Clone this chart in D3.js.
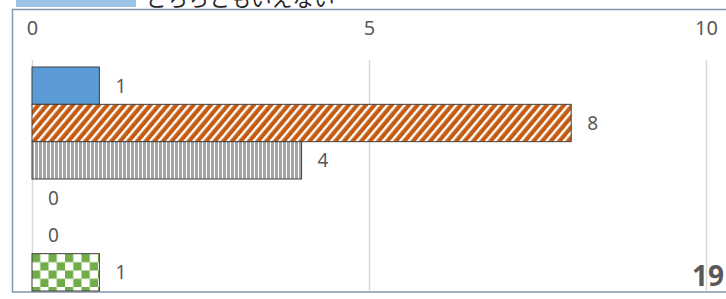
<!doctype html>
<html lang="ja">
<head>
  <meta charset="utf-8">
  <title>bar chart</title>
  <style>
    body { margin: 0; background: #fff; }
    svg text { font-family: "Noto Sans", "Noto Sans CJK JP", sans-serif; fill: #595959; }
  </style>
</head>
<body>
<div id="chart"></div>
<script src="https://cdnjs.cloudflare.com/ajax/libs/d3/7.8.5/d3.min.js"></script>
<script>

// data
const categories = ["a", "b", "c", "d", "e", "f"]
const values = [1, 8, 4, 0, 0, 1]
const xTicks = [0, 5, 10]
const total = 19
const legendText = "どちらともいえない"

const w = 726, h = 299

const svg = d3.select("#chart").append("svg")
  .attr("width", w)
  .attr("height", h)

// patterns for each bar
const defs = svg.append("defs")

let p = defs.append("pattern").attr("id", "diag")
  .attr("patternUnits", "userSpaceOnUse").attr("width", 6.6).attr("height", 6.6)
  .attr("patternTransform", "rotate(40)")
p.append("rect").attr("width", 6.6).attr("height", 6.6).attr("fill", "#c55a11")
p.append("rect").attr("width", 2.4).attr("height", 6.6).attr("fill", "#fff")

p = defs.append("pattern").attr("id", "vert")
  .attr("patternUnits", "userSpaceOnUse").attr("width", 4).attr("height", 4)
p.append("rect").attr("width", 4).attr("height", 4).attr("fill", "#a5a5a5")
p.append("rect").attr("x", 2).attr("width", 1).attr("height", 4).attr("fill", "#fff")

p = defs.append("pattern").attr("id", "check")
  .attr("patternUnits", "userSpaceOnUse").attr("width", 16.5).attr("height", 16.5)
  .attr("x", 32).attr("y", 254)
p.append("rect").attr("width", 16.5).attr("height", 16.5).attr("fill", "#fff")
p.append("rect").attr("width", 8.25).attr("height", 8.25).attr("fill", "#70ad47")
p.append("rect").attr("x", 8.25).attr("y", 8.25).attr("width", 8.25).attr("height", 8.25).attr("fill", "#70ad47")

const fills = ["#5b9bd5", "url(#diag)", "url(#vert)", "#5b9bd5", "#5b9bd5", "url(#check)"]

// legend fragment at the top (cut off by the frame, as in the source)
svg.append("rect")
  .attr("x", 16).attr("y", -10).attr("width", 120).attr("height", 17)
  .attr("fill", "#9dc3e6")
svg.append("text")
  .attr("x", 146).attr("y", 6)
  .style("font-size", "21px")
  .style("fill", "#262626")
  .text(legendText)

// plot area border
svg.append("rect")
  .attr("x", 12.5).attr("y", 9.5).attr("width", 730).attr("height", 282.5)
  .attr("fill", "none")
  .attr("stroke", "#8496b0")
  .attr("stroke-width", 1.5)

const x = d3.scaleLinear().domain([0, 10]).range([32, 706])
const y = d3.scaleBand().domain(categories).range([67, 291]).padding(0)

// grid
svg.append("g")
  .selectAll("line")
  .data(xTicks)
  .join("line")
    .attr("x1", d => x(d) + 0.5).attr("x2", d => x(d) + 0.5)
    .attr("y1", 60).attr("y2", 291)
    .attr("stroke", "#d9d9d9")
    .attr("stroke-width", 1.5)

// top axis
const axis = svg.append("g")
  .attr("transform", "translate(0,35)")
  .call(d3.axisTop(x).tickValues(xTicks).tickSize(0).tickPadding(0))
axis.select(".domain").remove()
axis.selectAll("text")
  .style("font-size", "20px")
  .style("font-family", null)
  .attr("fill", null)

// bars
svg.append("g")
  .selectAll("rect")
  .data(values)
  .join("rect")
    .attr("x", x(0))
    .attr("y", (d, i) => y(categories[i]))
    .attr("width", d => x(d) - x(0))
    .attr("height", y.bandwidth())
    .attr("fill", (d, i) => fills[i])
    .attr("stroke", d => d > 0 ? "#404040" : "none")
    .attr("stroke-width", 1)

// value labels
svg.append("g")
  .selectAll("text")
  .data(values)
  .join("text")
    .attr("x", d => x(d) + 16)
    .attr("y", (d, i) => y(categories[i]) + y.bandwidth() / 2)
    .attr("dy", "0.36em")
    .style("font-size", "19px")
    .text(d => d)

// total
svg.append("text")
  .attr("x", 724).attr("y", 276)
  .attr("dy", "0.36em")
  .attr("text-anchor", "end")
  .style("font-size", "28px")
  .style("font-weight", "bold")
  .text(total)

</script>
</body>
</html>
